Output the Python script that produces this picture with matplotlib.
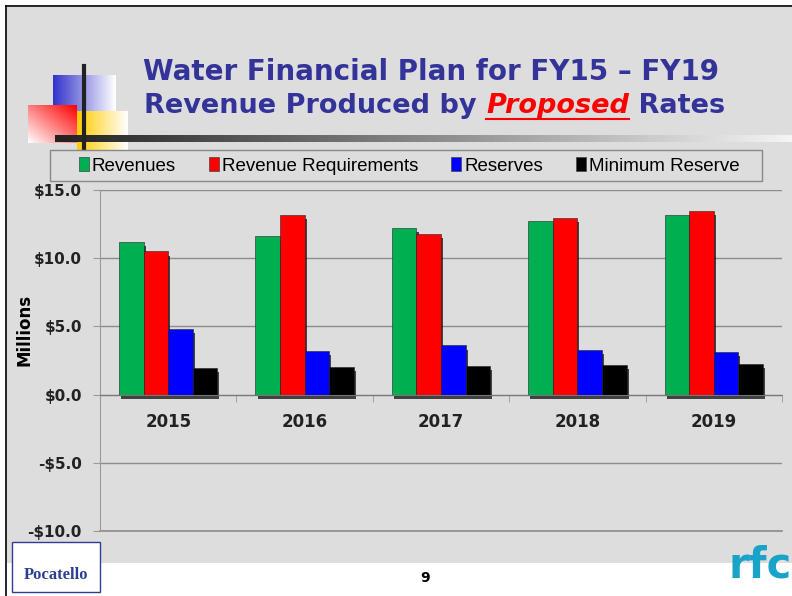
import numpy as np
import matplotlib.pyplot as plt
import matplotlib.patches as mpatches
import matplotlib.patheffects as pe
from matplotlib.colors import LinearSegmentedColormap

years = ['2015', '2016', '2017', '2018', '2019']
revenues = [11.2, 11.6, 12.2, 12.7, 13.2]
rev_requirements = [10.5, 13.2, 11.8, 12.95, 13.45]
reserves = [4.8, 3.2, 3.6, 3.3, 3.15]
min_reserve = [1.95, 2.05, 2.1, 2.2, 2.25]

series_names = ['Revenues', 'Revenue Requirements', 'Reserves', 'Minimum Reserve']
series_colors = ['#00b050', '#ff0000', '#0000ff', '#000000']
yticks = [-10, -5, 0, 5, 10, 15]
ytick_labels = ['-$10.0', '-$5.0', '$0.0', '$5.0', '$10.0', '$15.0']

bg = '#dddddd'
navy = '#333399'

fig = plt.figure(figsize=(7.92, 5.96), dpi=100)
fig.patch.set_facecolor('white')

W, H = 792, 596
def fx(px): return px / W
def fy(py): return 1 - py / H

# slide background + border
fig.patches.append(mpatches.Rectangle((fx(7), fy(563)), fx(792) - fx(7), fy(7) - fy(563),
                                      transform=fig.transFigure, facecolor=bg, edgecolor='none', zorder=-5))
fig.add_artist(plt.Line2D([fx(6), fx(6)], [0, fy(6)], color='black', lw=1.2, transform=fig.transFigure))
fig.add_artist(plt.Line2D([fx(6), 1], [fy(6), fy(6)], color='black', lw=1.2, transform=fig.transFigure))

# decorative squares (gradient images)
def grad_box(x0, y0, x1, y1, c0, c1, direction='h'):
    ax_d = fig.add_axes([fx(x0), fy(y1), fx(x1) - fx(x0), fy(y0) - fy(y1)])
    cm = LinearSegmentedColormap.from_list('g', [c0, c1])
    g = np.linspace(0, 1, 100)
    if direction == 'h':
        img = g[None, :]
    else:
        img = (g[None, :] + g[::-1][:, None]) / 2
    ax_d.imshow(img, cmap=cm, aspect='auto', extent=(0, 1, 0, 1))
    ax_d.axis('off')
    return ax_d

grad_box(53, 75, 116, 112, '#3333cc', '#ffffff').set_zorder(1)
grad_box(77, 111, 128, 150, '#ffcc00', '#ffffff').set_zorder(1)
grad_box(28, 105, 77, 143, '#ffffff', '#ff0000', direction='d').set_zorder(2)

# black cross lines
fig.add_artist(plt.Line2D([fx(84), fx(84)], [fy(160), fy(66)], color='#222222', lw=3,
                          transform=fig.transFigure, zorder=5))
hl = fig.add_axes([fx(55), fy(142), fx(792) - fx(55), fy(135) - fy(142)])
hl.imshow(np.linspace(0, 1, 200)[None, :],
          cmap=LinearSegmentedColormap.from_list('k', ['#222222', '#888888', '#f4f4f4']), aspect='auto')
hl.axis('off')
hl.set_zorder(4)

# title
fig.text(fx(431), fy(72), 'Water Financial Plan for FY15 \u2013 FY19', ha='center', va='center',
         fontsize=20, fontweight='bold', color=navy, zorder=6)
r = fig.canvas.get_renderer()
parts = [('Revenue Produced by ', dict(color=navy)),
         ('Proposed', dict(color='red', style='italic')),
         (' Rates', dict(color=navy))]
texts = []
for s, kw in parts:
    texts.append(fig.text(0, fy(106), s, va='center', fontsize=19.5, fontweight='bold', zorder=6, **kw))
widths = [t.get_window_extent(r).width for t in texts]
x = fx(435) - sum(widths) / 2 / W
for t, w in zip(texts, widths):
    t.set_x(x)
    x += w / W
bb = texts[1].get_window_extent(r)
fig.add_artist(plt.Line2D([bb.x0 / W, bb.x1 / W], [fy(119), fy(119)], color='red', lw=1.5,
                          transform=fig.transFigure))

# chart
ax = fig.add_axes([fx(100), fy(531), fx(782) - fx(100), fy(190) - fy(531)])
ax.set_facecolor(bg)
ax.set_zorder(3)
ax.spines['bottom'].set_position(('data', 0))
ax.spines['bottom'].set_color('#777777')
ax.spines['bottom'].set_zorder(4)
ax.spines['left'].set_color('#999999')
ax.spines['top'].set_visible(False)
ax.spines['right'].set_visible(False)

xpos = np.arange(len(years))
bw = 0.18
all_series = [revenues, rev_requirements, reserves, min_reserve]
for i, (vals, c, name) in enumerate(zip(all_series, series_colors, series_names)):
    b = ax.bar(xpos + (i - 1.5) * bw, vals, bw, color=c, label=name, zorder=3,
               edgecolor='#222222', linewidth=0.4)
    for p in b:
        p.set_path_effects([pe.SimplePatchShadow(offset=(1.5, -3), shadow_rgbFace='black', alpha=0.7),
                            pe.Normal()])

ax.set_xlim(-0.5, 4.5)
ax.set_ylim(-10, 15)
ax.yaxis.grid(True, color='#8c8c8c', lw=1, zorder=0)
ax.axhline(-10, color='#8c8c8c', lw=1.2, clip_on=False, zorder=1)
ax.set_axisbelow(True)
ax.set_xticks(np.arange(-0.5, 5, 1), minor=True)
ax.tick_params(axis='x', which='major', length=0, pad=13)
ax.tick_params(axis='x', which='minor', length=5, color='#999999', direction='out')
ax.tick_params(axis='y', length=5, color='#999999', pad=8)
ax.set_yticks(yticks)
ax.set_yticklabels(ytick_labels, fontsize=11, fontweight='bold', color='#222222')
ax.set_xticks(xpos)
ax.set_xticklabels(years, fontsize=12, fontweight='bold', color='#222222')
ax.set_ylabel('Millions', fontsize=12, fontweight='bold')
ax.yaxis.set_label_coords(-0.098, 0.59)

# legend: frame drawn separately, entries centred inside
fig.patches.append(mpatches.Rectangle((fx(50), fy(181)), fx(762) - fx(50), fy(150) - fy(181),
                                      transform=fig.transFigure, facecolor=bg, edgecolor='#888888',
                                      lw=1, zorder=6))
handles = [mpatches.Patch(facecolor=c, edgecolor='#444444', lw=0.5) for c in series_colors]
leg = fig.legend(handles, series_names, loc='center', bbox_to_anchor=(fx(409), fy(166)), ncol=4,
                 frameon=False, handlelength=0.55, handleheight=0.75, handletextpad=0.15,
                 columnspacing=1.75, prop={'family': 'Liberation Sans', 'size': 13.5})
leg.set_zorder(7)

# footer
fig.text(fx(425), fy(578), '9', ha='center', va='center', fontsize=10, fontweight='bold')
fig.patches.append(mpatches.Rectangle((fx(12), fy(592)), fx(100) - fx(12), fy(542) - fy(592),
                                      transform=fig.transFigure, facecolor='white', edgecolor='#2c3e8f', lw=1))
fig.text(fx(56), fy(575), 'Pocatello', ha='center', va='center', fontsize=12, color='#2c3e8f',
         family='Liberation Serif', fontweight='bold')
fig.text(fx(760), fy(565), 'rfc', ha='center', va='center', fontsize=30, color='#1aa3c8',
         fontweight='bold', family='DejaVu Sans')

fig.savefig('out.png', dpi=100)
